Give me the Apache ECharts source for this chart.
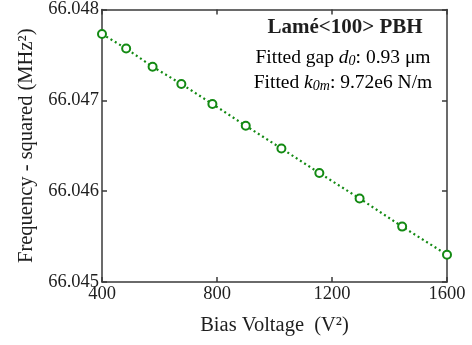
<!DOCTYPE html>
<html><head><meta charset="utf-8">
<script src="https://cdn.jsdelivr.net/npm/echarts@6/dist/echarts.min.js"></script>
<style>html,body{margin:0;padding:0;background:#fff}#c{width:472px;height:345px}</style>
</head><body><div id="c"></div>
<script>
const biasVoltage = [400, 484, 576, 676, 784, 900, 1024, 1156, 1296, 1444, 1600];
const freqSquared = [66.04773, 66.04757, 66.04737, 66.04718, 66.04696, 66.04672, 66.04647, 66.04620, 66.04592, 66.04561, 66.04530];
const xTicks = [400, 800, 1200, 1600];
const yTicks = [66.045, 66.046, 66.047, 66.048];

const FONT = '"Liberation Serif", "Times New Roman", serif';
const axisCol = '#3a3a3a';
const green = '#138a13';
const txt = '#1e1e1e';

const chart = echarts.init(document.getElementById('c'), null, {renderer: 'canvas'});
const axCommon = {
  axisLine: {show: true, onZero: false, lineStyle: {color: axisCol, width: 1.5}},
  axisTick: {show: true, inside: true, length: 5, lineStyle: {color: axisCol, width: 1.5}},
  splitLine: {show: false},
  nameTextStyle: {fontFamily: FONT, fontSize: 20.5, color: txt}
};
chart.setOption({
  animation: false,
  grid: {left: 102, right: 25, top: 6, bottom: 63},
  xAxis: [
    Object.assign({}, axCommon, {
      type: 'value', min: xTicks[0], max: xTicks[xTicks.length-1], interval: 400,
      name: 'Bias Voltage  (V²)', nameLocation: 'middle', nameGap: 33,
      axisLabel: {fontFamily: FONT, fontSize: 18.5, color: txt, margin: 3,
        formatter: v => String(Math.round(v))}
    }),
    Object.assign({}, axCommon, {
      type: 'value', position: 'top', min: xTicks[0], max: xTicks[xTicks.length-1], interval: 400,
      axisLabel: {show: false}, name: ''
    })
  ],
  yAxis: [
    Object.assign({}, axCommon, {
      type: 'value', min: yTicks[0], max: yTicks[yTicks.length-1], interval: 0.001,
      name: 'Frequency - squared (MHz²)', nameLocation: 'middle', nameGap: 62,
      axisLabel: {fontFamily: FONT, fontSize: 18.5, color: txt, margin: 3,
        formatter: v => v.toFixed(3)}
    }),
    Object.assign({}, axCommon, {
      type: 'value', position: 'right', min: yTicks[0], max: yTicks[yTicks.length-1], interval: 0.001,
      axisLabel: {show: false}, name: ''
    })
  ],
  series: [{
    type: 'line',
    data: biasVoltage.map((x, i) => [x, freqSquared[i]]),
    symbol: 'emptyCircle', symbolSize: 8,
    itemStyle: {color: green, borderColor: green, borderWidth: 2},
    lineStyle: {color: green, width: 2.2, type: [2, 3]},
    showSymbol: true
  }],
  graphic: [
    {type: 'text', x: 345, y: 28, style: {text: 'Lamé<100> PBH', textAlign: 'center', textVerticalAlign: 'middle',
      font: 'bold 21px ' + FONT, fill: txt}},
    {type: 'text', x: 343, y: 58, style: {
      text: '{n|Fitted gap }{i|d}{s|0}{n|: 0.93 μm}', textAlign: 'center', textVerticalAlign: 'middle',
      rich: {
        n: {fontFamily: FONT, fontSize: 19.5, color: txt},
        i: {fontFamily: FONT, fontSize: 19.5, fontStyle: 'italic', color: txt},
        s: {fontFamily: FONT, fontSize: 14, fontStyle: 'italic', color: txt, verticalAlign: 'bottom'}
      }}},
    {type: 'text', x: 343, y: 83, style: {
      text: '{n|Fitted }{i|k}{s|0m}{n|: 9.72e6 N/m}', textAlign: 'center', textVerticalAlign: 'middle',
      rich: {
        n: {fontFamily: FONT, fontSize: 19.5, color: txt},
        i: {fontFamily: FONT, fontSize: 19.5, fontStyle: 'italic', color: txt},
        s: {fontFamily: FONT, fontSize: 14, fontStyle: 'italic', color: txt, verticalAlign: 'bottom'}
      }}}
  ]
});
</script></body></html>
